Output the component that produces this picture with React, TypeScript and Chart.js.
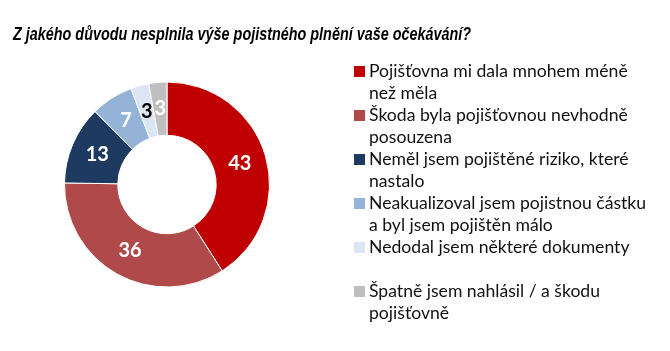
import React, { useEffect, useRef } from "react";
import { Chart, registerables } from "chart.js";

Chart.register(...registerables);

const title = "Z jakého důvodu nesplnila výše pojistného plnění vaše očekávání?";

const categories: string[][] = [
  ["Pojišťovna mi dala mnohem méně", "než měla"],
  ["Škoda byla pojišťovnou nevhodně", "posouzena"],
  ["Neměl jsem pojištěné riziko, které", "nastalo"],
  ["Neakualizoval jsem pojistnou částku", "a byl jsem pojištěn málo"],
  ["Nedodal jsem některé dokumenty"],
  ["Špatně jsem nahlásil / a škodu", "pojišťovně"],
];

const values = [43, 36, 13, 7, 3, 3];

const colors = ["#C00000", "#B04A4A", "#1F3A60", "#95B3D7", "#DCE6F2", "#BFBFBF"];
const valueLabelColors = ["#FFFFFF", "#FFFFFF", "#FFFFFF", "#FFFFFF", "#000000", "#FFFFFF"];

const overlayPlugin = {
  id: "overlay",
  afterDatasetsDraw(chart: any) {
    const ctx: CanvasRenderingContext2D = chart.ctx;
    const meta = chart.getDatasetMeta(0);
    ctx.save();
    // value labels
    ctx.textAlign = "center";
    ctx.textBaseline = "middle";
    ctx.font = "bold 20px Lato";
    meta.data.forEach((arc: any, i: number) => {
      const p = arc.tooltipPosition(true);
      ctx.fillStyle = valueLabelColors[i];
      ctx.fillText(String(values[i]), p.x, p.y);
    });
    // title
    ctx.textAlign = "left";
    ctx.textBaseline = "alphabetic";
    ctx.fillStyle = "#000000";
    ctx.font = "italic bold 18px 'Liberation Sans'";
    ctx.fillText(title, 13, 40, 458);
    // legend
    ctx.textBaseline = "middle";
    ctx.font = "17.6px Lato";
    let y = 71;
    categories.forEach((lines, i) => {
      ctx.fillStyle = colors[i];
      ctx.fillRect(354, y - 5, 11, 11);
      ctx.fillStyle = "#111111";
      lines.forEach((line, j) => ctx.fillText(line, 369, y + j * 22));
      y += 44;
    });
    ctx.restore();
  },
};

export default function App() {
  const canvasRef = useRef<HTMLCanvasElement | null>(null);

  useEffect(() => {
    if (!canvasRef.current) return;
    const chart = new Chart(canvasRef.current, {
      type: "doughnut",
      data: {
        labels: categories.map((l) => l.join(" ")),
        datasets: [
          {
            data: values,
            backgroundColor: colors,
            borderColor: "#FFFFFF",
            borderWidth: 1,
          },
        ],
      },
      options: {
        responsive: false,
        animation: false,
        events: [],
        cutout: "48%",
        layout: { padding: { left: 64, right: 400, top: 81, bottom: 63 } },
        plugins: {
          legend: { display: false },
          title: { display: false },
          tooltip: { enabled: false },
        },
      },
      plugins: [overlayPlugin],
    });
    return () => chart.destroy();
  }, []);

  return (
    <div style={{ position: "absolute", left: 0, top: 0, width: 670, height: 351, background: "#fff" }}>
      <canvas ref={canvasRef} width={670} height={351} />
    </div>
  );
}
